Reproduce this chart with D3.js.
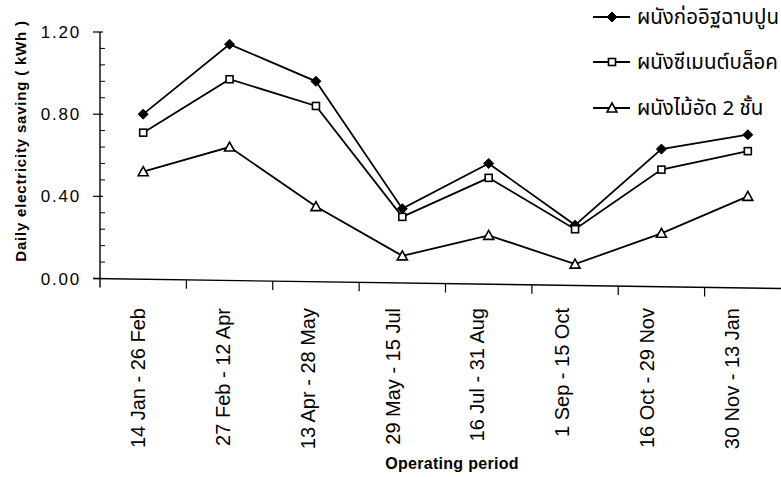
<!DOCTYPE html>
<html>
<head>
<meta charset="utf-8">
<script src="https://cdn.jsdelivr.net/npm/d3@7"></script>
<style>
  html, body { margin: 0; padding: 0; background: #fff; }
  svg { display: block; }
  .num { font-family: Arial, "Liberation Sans", sans-serif; fill: #000; }
  .thai { font-family: "Noto Sans Thai", "Noto Sans Thai UI", Loma, Garuda, "Tlwg Typo", "DejaVu Sans", sans-serif; fill: #000; }
</style>
</head>
<body>
<svg id="chart" width="781" height="477"></svg>
<script>
// Operating periods (x categories)
const categories = [
  "14 Jan - 26 Feb", "27 Feb - 12 Apr", "13 Apr - 28 May", "29 May - 15 Jul",
  "16 Jul - 31 Aug", "1 Sep - 15 Oct", "16 Oct - 29 Nov", "30 Nov - 13 Jan"
];
// Daily electricity saving (kWh) for each wall type
const brickWall       = [0.80, 1.14, 0.96, 0.34, 0.56, 0.26, 0.63, 0.70];
const cementBlockWall = [0.71, 0.97, 0.84, 0.30, 0.49, 0.24, 0.53, 0.62];
const plywoodWall     = [0.52, 0.64, 0.35, 0.11, 0.21, 0.07, 0.22, 0.40];
const seriesNames = ["ผนังก่ออิฐฉาบปูน", "ผนังซีเมนต์บล็อค", "ผนังไม้อัด 2 ชั้น"];
const yTicks = [0.00, 0.40, 0.80, 1.20];
const yMinorStep = 0.08;
const yTitle = "Daily electricity saving ( kWh )";
const xTitle = "Operating period";

const svg = d3.select("#chart");

const x = d3.scaleBand().domain(categories).range([100, 791]);
const xLabel = d3.scaleBand().domain(categories).range([95, 774]);
const y = d3.scaleLinear().domain([0, 1.2]).range([278.5, 32]);
const cx = c => x(c) + x.bandwidth() / 2;

// ---- axes ----
const axisX0 = x.range()[0];
const axisDrop = 10; // the baseline runs slightly downhill to the right
const baseAt = px => y(0) + axisDrop * (px - axisX0) / (781 - axisX0);
const g = svg.append("g").attr("stroke", "#000").attr("fill", "none");

// y axis line
g.append("line").attr("x1", axisX0).attr("x2", axisX0)
  .attr("y1", y(1.2)).attr("y2", y(0) + 9).attr("stroke-width", 1.4);
// x axis line
g.append("line").attr("x1", axisX0 - 7).attr("x2", 781)
  .attr("y1", y(0)).attr("y2", baseAt(781)).attr("stroke-width", 1.4);

// y major ticks
yTicks.forEach(v => {
  g.append("line").attr("x1", axisX0 - 7).attr("x2", axisX0 + 3)
    .attr("y1", y(v)).attr("y2", y(v)).attr("stroke-width", 1.2);
});
// y minor ticks
d3.range(0, 1.2 + 1e-9, yMinorStep).forEach(v => {
  if (yTicks.some(t => Math.abs(t - v) < 1e-6)) return;
  g.append("line").attr("x1", axisX0).attr("x2", axisX0 + 5)
    .attr("y1", y(v)).attr("y2", y(v)).attr("stroke-width", 1);
});
// x ticks at category boundaries
categories.slice(1).forEach(c => {
  const yy = baseAt(x(c));
  g.append("line").attr("x1", x(c)).attr("x2", x(c))
    .attr("y1", yy).attr("y2", yy + 9).attr("stroke-width", 1.2);
});

// y tick labels
svg.append("g").selectAll("text").data(yTicks).join("text")
  .attr("class", "num")
  .attr("x", 81).attr("y", d => y(d))
  .attr("dy", "0.36em")
  .attr("text-anchor", "end")
  .attr("font-size", 17).attr("letter-spacing", 1.8)
  .text(d => d.toFixed(2));

// x tick labels (rotated)
svg.append("g").selectAll("text").data(categories).join("text")
  .attr("class", "num")
  .attr("font-size", 20)
  .attr("text-anchor", "end")
  .attr("transform", d => `translate(${xLabel(d) + xLabel.bandwidth() / 2 + 7.5},308) rotate(-90)`)
  .text(d => d);

// axis titles
svg.append("text").attr("class", "num")
  .attr("font-size", 15).attr("font-weight", "bold").attr("letter-spacing", 0.8)
  .attr("text-anchor", "middle")
  .attr("transform", "translate(26,141) rotate(-90)")
  .text(yTitle);
svg.append("text").attr("class", "num")
  .attr("font-size", 16).attr("font-weight", "bold").attr("letter-spacing", 0.3)
  .attr("text-anchor", "middle")
  .attr("x", 452).attr("y", 469)
  .text(xTitle);

// ---- series ----
const series = [
  { name: seriesNames[0], values: brickWall, marker: "diamond" },
  { name: seriesNames[1], values: cementBlockWall, marker: "square" },
  { name: seriesNames[2], values: plywoodWall, marker: "triangle" }
];

const line = d3.line().x((d, i) => cx(categories[i])).y(d => y(d));

function drawMarker(sel, type, px, py) {
  if (type === "diamond") {
    sel.append("path")
      .attr("d", `M${px},${py - 5}L${px + 5},${py}L${px},${py + 5}L${px - 5},${py}Z`)
      .attr("fill", "#000").attr("stroke", "#000").attr("stroke-width", 1);
  } else if (type === "square") {
    sel.append("rect").attr("x", px - 3.5).attr("y", py - 3.5)
      .attr("width", 7).attr("height", 7)
      .attr("fill", "#fff").attr("stroke", "#000").attr("stroke-width", 1.6);
  } else {
    sel.append("path")
      .attr("d", `M${px},${py - 5}L${px + 5},${py + 4}L${px - 5},${py + 4}Z`)
      .attr("fill", "#fff").attr("stroke", "#000").attr("stroke-width", 1.6);
  }
}

series.forEach(s => {
  const sg = svg.append("g");
  sg.append("path").attr("d", line(s.values))
    .attr("fill", "none").attr("stroke", "#000").attr("stroke-width", 1.8);
  s.values.forEach((v, i) => drawMarker(sg, s.marker, cx(categories[i]), y(v)));
});

// ---- legend ----
const legendY = [17, 62, 108];
series.forEach((s, i) => {
  const lg = svg.append("g");
  lg.append("line").attr("x1", 593).attr("x2", 630)
    .attr("y1", legendY[i]).attr("y2", legendY[i])
    .attr("stroke", "#000").attr("stroke-width", 1.8);
  drawMarker(lg, s.marker, 612, legendY[i]);
  lg.append("text").attr("class", "thai")
    .attr("x", 637).attr("y", legendY[i] + 7)
    .attr("font-size", 20.5)
    .text(s.name);
});
</script>
</body>
</html>
